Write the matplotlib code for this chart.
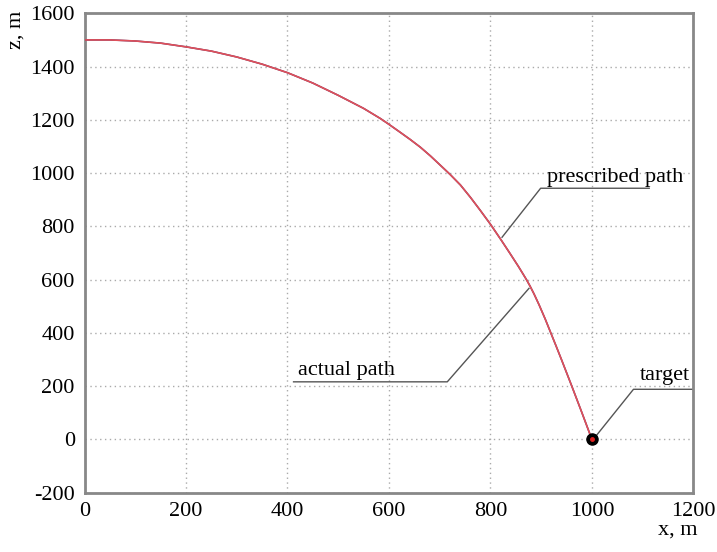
import matplotlib
matplotlib.use("Agg")
import matplotlib.pyplot as plt

plt.rcParams['font.family'] = ['Liberation Serif', 'DejaVu Serif']
plt.rcParams['axes.unicode_minus'] = False

# path data (x, m ; z, m)
path_x = [0, 50, 100, 150, 200, 250, 300, 350, 400, 450, 500, 550, 583, 600, 623, 642, 662, 682, 701,
          721, 741, 761, 780, 800, 820, 838, 855, 864, 871, 878, 886, 896, 908, 919, 930, 940, 950,
          960, 970, 980, 990, 1000]
path_z = [1500, 1500, 1496, 1488, 1474, 1458, 1436, 1409, 1377, 1338, 1292, 1243, 1205, 1183, 1152, 1126, 1097, 1064, 1030,
          994, 955, 908, 860, 808, 752, 700, 650, 622, 600, 576, 546, 505, 452, 400, 348, 300, 251,
          202, 152, 102, 51, 0]

target_x = [1000]
target_z = [0]

x_ticks = [0, 200, 400, 600, 800, 1000, 1200]
z_ticks = [-200, 0, 200, 400, 600, 800, 1000, 1200, 1400, 1600]

fig = plt.figure(figsize=(7.17, 5.52), dpi=100)
ax = fig.add_axes([0.1179, 0.1076, 0.967 - 0.1179, 0.9759 - 0.1076])

ax.set_xlim(0, 1200)
ax.set_ylim(-200, 1600)
ax.set_xticks(x_ticks)
ax.set_yticks(z_ticks)
ax.grid(True, color='#aaaaaa', linestyle=(0, (1, 2.5)), linewidth=1.0)
ax.tick_params(length=0, labelsize=16, pad=7, colors='black')
for s in ax.spines.values():
    s.set_color('#888888')
    s.set_linewidth(2)

# prescribed and actual paths
ax.plot(path_x, path_z, color='#3a2a6a', linewidth=1.1, zorder=3, solid_joinstyle='round')
ax.plot(path_x, path_z, color='#e0505a', linewidth=1.2, zorder=4, solid_joinstyle='round')

# target
ax.plot(target_x, target_z, 'o', color='black', markersize=8, zorder=5)
ax.plot(target_x, target_z, 'o', color='#e02020', markersize=2.5, zorder=6)

lc = '#555555'
fs = 16
# prescribed path leader
ax.plot([823, 899, 1113], [759, 943, 943], color=lc, linewidth=1.0, zorder=2)
ax.text(912, 967, 'prescribed path', fontsize=fs, ha='left', va='baseline', zorder=7)
# actual path leader
ax.plot([876, 715, 412], [567, 216, 216], color=lc, linewidth=1.0, zorder=2)
ax.text(421, 241, 'actual path', fontsize=fs, ha='left', va='baseline', zorder=7)
# target leader
ax.plot([1007, 1082, 1200], [10, 188, 188], color=lc, linewidth=1.0, zorder=2, clip_on=False)
ax.text(1094, 223, 'target', fontsize=fs, ha='left', va='baseline', zorder=7)

fig.text(0.945, 0.040, 'x, m', fontsize=fs, ha='center', va='center')
fig.text(0.022, 0.945, 'z, m', fontsize=fs, ha='center', va='center', rotation=90)

fig.savefig('out.png', dpi=100)
